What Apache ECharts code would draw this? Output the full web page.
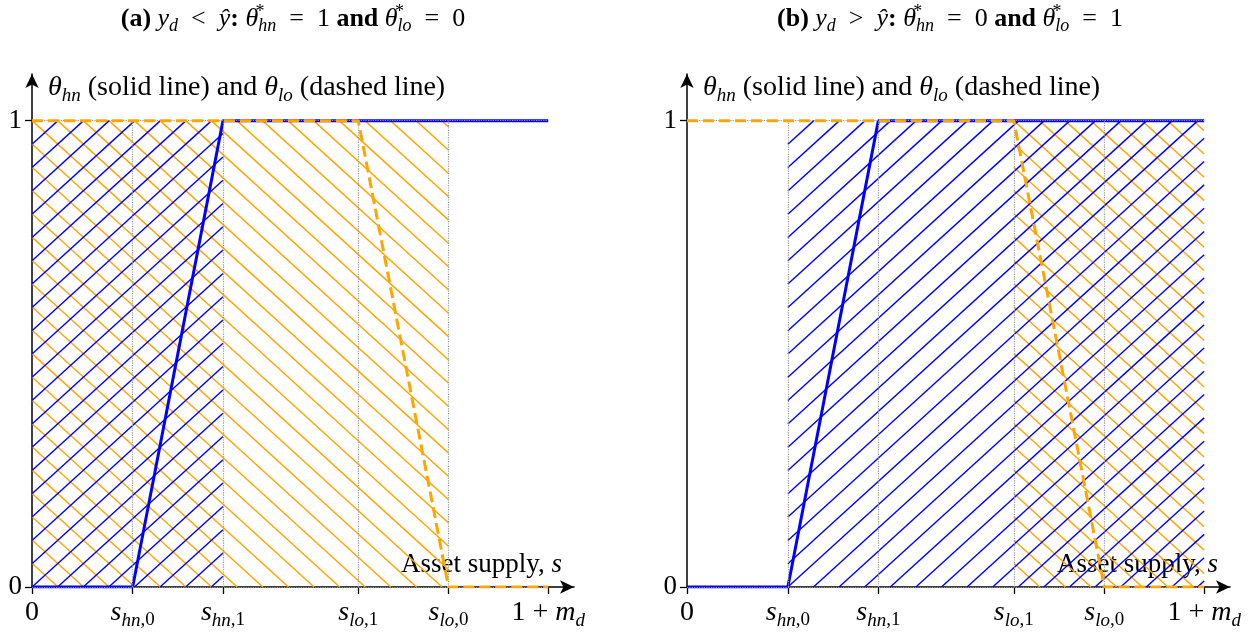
<!DOCTYPE html>
<html>
<head>
<meta charset="utf-8">
<script src="https://cdn.jsdelivr.net/npm/echarts@6/dist/echarts.min.js"></script>
<style>
  html, body { margin: 0; padding: 0; background: #fff; }
  #chart { width: 1259px; height: 632px; }
</style>
</head>
<body>
<div id="chart"></div>
<script>
// Positions of the asset-supply thresholds on the horizontal axis (1 + m_d = 1)
const tickValues = [0, 0.195, 0.37, 0.632, 0.807, 1];
const tickNames = ['0', 's_hn,0', 's_hn,1', 's_lo,1', 's_lo,0', '1+m_d'];

// theta_hn (solid) and theta_lo (dashed) as functions of s
const thetaHn = [[0, 0], [0.195, 0], [0.37, 1], [1, 1]];
const thetaLo = [[0, 1], [0.632, 1], [0.807, 0], [1, 0]];

// Hatched regions [from, to] in s, per panel
const regionHnA = [0, 0.37];
const regionLoA = [0, 0.807];
const regionHnB = [0.195, 1];
const regionLoB = [0.632, 1];

const BLUE = '#0000ff';
const ORANGE = '#ffa500';
const SERIF = '"Liberation Serif", "Times New Roman", serif';
const SP = '\u2002';

function richSet(size, sub) {
  const base = { fontFamily: SERIF, color: '#000', fontWeight: 'normal', fontStyle: 'normal' };
  return {
    r: Object.assign({}, base, { fontSize: size, lineHeight: size + 6 }),
    it: Object.assign({}, base, { fontStyle: 'italic', fontSize: size, lineHeight: size + 6 }),
    b: Object.assign({}, base, { fontWeight: 'bold', fontSize: size, lineHeight: size + 6 }),
    sb: Object.assign({}, base, { fontStyle: 'italic', fontSize: sub, lineHeight: sub - 2, verticalAlign: 'bottom' }),
    sr: Object.assign({}, base, { fontSize: sub, lineHeight: sub - 2, verticalAlign: 'bottom' }),
    sup: Object.assign({}, base, { fontSize: sub, lineHeight: sub - 2, verticalAlign: 'top', width: 0, align: 'left' })
  };
}

function tickRich(name) {
  if (name === '0') return '{r|0}';
  if (name === '1+m_d') return '{r|1 + }{it|m}{sb|d}';
  const m = name.match(/^s_(\w+),(\d)$/);
  return '{it|s}{sb|' + m[1] + '}{sr|,' + m[2] + '}';
}

function tickFormatter(v) {
  let best = 0;
  tickValues.forEach((t, i) => { if (Math.abs(t - v) < Math.abs(tickValues[best] - v)) best = i; });
  return tickRich(tickNames[best]);
}

// Parallel hatch lines clipped to the rectangle between two s values and theta 0..1
function makeHatch(dir, color) {
  return function (params, api) {
    const p0 = api.coord([api.value(0), 1]);
    const p1 = api.coord([api.value(1), 0]);
    const L = p0[0], T = p0[1], R = p1[0], B = p1[1];
    const m = 0.91, sp = 23.3;
    const kids = [];
    for (let k = -80; k <= 80; k++) {
      let xs, xe, ys, ye;
      if (dir === 'up') {
        // y = B + k*sp - m (x - L)
        xs = Math.max(L, L + k * sp / m);
        xe = Math.min(R, L + (B - T + k * sp) / m);
        if (xe - xs < 0.5) continue;
        ys = B + k * sp - m * (xs - L);
        ye = B + k * sp - m * (xe - L);
      } else {
        // y = T + k*sp + m (x - L)
        xs = Math.max(L, L - k * sp / m);
        xe = Math.min(R, L + (B - T - k * sp) / m);
        if (xe - xs < 0.5) continue;
        ys = T + k * sp + m * (xs - L);
        ye = T + k * sp + m * (xe - L);
      }
      kids.push({
        type: 'line',
        shape: { x1: xs, y1: ys, x2: xe, y2: ye },
        style: { stroke: color, lineWidth: 1.4 }
      });
    }
    return { type: 'group', children: kids };
  };
}

function guideLines() {
  const d = [];
  tickValues.slice(1, -1).forEach(v => d.push([{ coord: [v, 0] }, { coord: [v, 1] }]));
  d.push([{ coord: [0, 0] }, { coord: [1, 0] }]);
  d.push([{ coord: [0, 1] }, { coord: [1, 1] }]);
  return d;
}

const grids = [
  { left: 32, top: 74, width: 542, height: 513 },
  { left: 687, top: 74, width: 543, height: 513 }
];

const xAxes = grids.map((g, i) => ({
  type: 'value', gridIndex: i, min: 0, max: 1.05,
  name: '{r|Asset supply, }{it|s}',
  nameLocation: 'end', nameGap: -12,
  nameTextStyle: { align: 'right', verticalAlign: 'bottom', padding: [0, 0, 6, 0], rich: richSet(27, 18) },
  axisLine: { show: true, symbol: ['none', 'arrow'], symbolSize: [10, 14], lineStyle: { color: '#000', width: 1.5 } },
  axisTick: { show: true, customValues: tickValues, length: 7, lineStyle: { color: '#000', width: 1.3 } },
  axisLabel: { show: true, customValues: tickValues, margin: 9, formatter: tickFormatter, rich: richSet(28, 19) },
  splitLine: { show: false }
}));

const yAxes = grids.map((g, i) => ({
  type: 'value', gridIndex: i, min: 0, max: 1.1,
  name: '{it|θ}{sb|hn}{r| (solid line) and }{it|θ}{sb|lo}{r| (dashed line)}',
  nameLocation: 'end', nameGap: -14,
  nameTextStyle: { align: 'left', verticalAlign: 'middle', padding: [0, 0, 0, 16], rich: richSet(28, 19) },
  axisLine: { show: true, symbol: ['none', 'arrow'], symbolSize: [10, 14], lineStyle: { color: '#000', width: 1.5 } },
  axisTick: { show: true, customValues: [0, 1], length: 7, lineStyle: { color: '#000', width: 1.3 } },
  axisLabel: { show: true, customValues: [0, 1], margin: 10, formatter: v => '{r|' + v + '}', rich: richSet(27, 18) },
  splitLine: { show: false }
}));

const series = [];
[[regionHnA, regionLoA], [regionHnB, regionLoB]].forEach(([hn, lo], i) => {
  series.push({
    type: 'custom', xAxisIndex: i, yAxisIndex: i, z: 1, silent: true,
    renderItem: makeHatch('down', ORANGE), data: [lo], encode: { x: [0, 1] }
  });
  series.push({
    type: 'custom', xAxisIndex: i, yAxisIndex: i, z: 2, silent: true,
    renderItem: makeHatch('up', BLUE), data: [hn], encode: { x: [0, 1] }
  });
  series.push({
    type: 'line', xAxisIndex: i, yAxisIndex: i, z: 3, silent: true, data: [],
    markLine: {
      silent: true, symbol: 'none', label: { show: false },
      lineStyle: { type: 'dotted', color: '#999', width: 1.2 },
      data: guideLines()
    }
  });
  series.push({
    type: 'line', xAxisIndex: i, yAxisIndex: i, z: 4, data: thetaHn,
    symbol: 'none', lineStyle: { color: BLUE, width: 3 }
  });
  series.push({
    type: 'line', xAxisIndex: i, yAxisIndex: i, z: 5, data: thetaLo,
    symbol: 'none', lineStyle: { color: ORANGE, width: 3, type: [11, 5] }
  });
});

const titleRich = richSet(26, 18);
function titleText(panel, rel, hnVal, loVal) {
  return '{b|(' + panel + ') }{it|y}{sb|d}{r|' + SP + rel + SP + '}{it|ŷ}{b|: }' +
    '{it|θ}{sup|\u2009*}{sb|hn}{r|' + SP + '=' + SP + hnVal + ' }{b|and }' +
    '{it|θ}{sup|\u2009*}{sb|lo}{r|' + SP + '=' + SP + loVal + '}';
}

const chart = echarts.init(document.getElementById('chart'), null, { renderer: 'canvas' });
chart.setOption({
  animation: false,
  backgroundColor: '#fff',
  title: [
    {
      text: titleText('a', '<', 1, 0),
      left: 288, top: -2, textAlign: 'center', textStyle: { fontWeight: 'normal', rich: titleRich }
    },
    {
      text: titleText('b', '>', 0, 1),
      left: 945, top: -2, textAlign: 'center', textStyle: { fontWeight: 'normal', rich: titleRich }
    }
  ],
  grid: grids,
  xAxis: xAxes,
  yAxis: yAxes,
  series: series
});
</script>
</body>
</html>
